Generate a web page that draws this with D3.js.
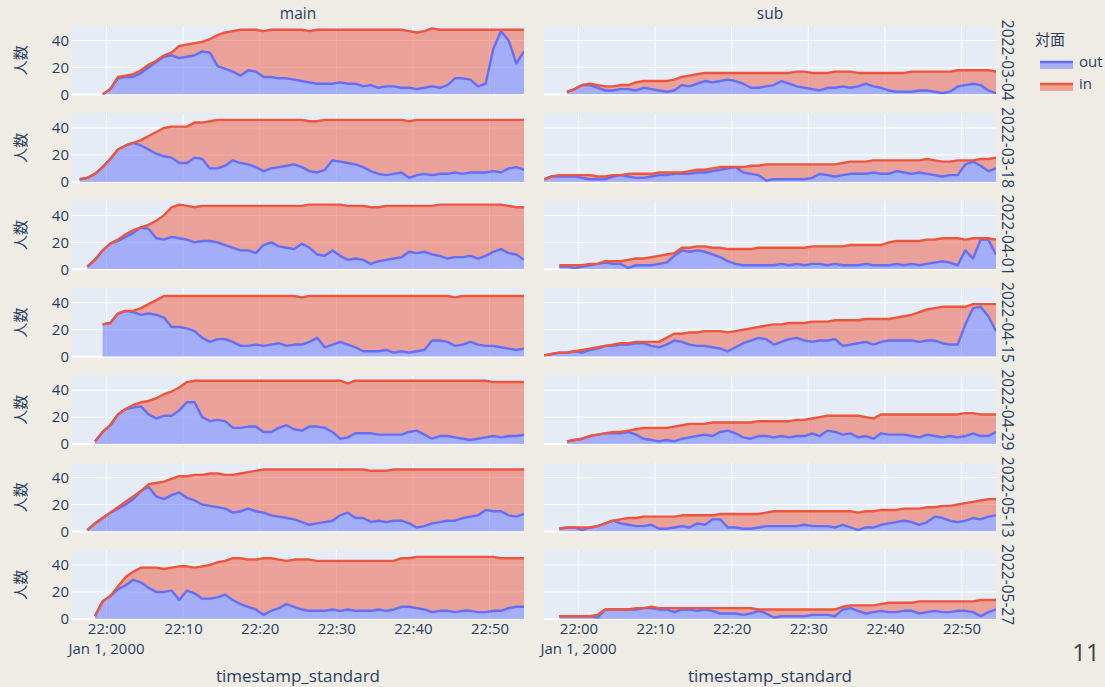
<!DOCTYPE html>
<html lang="ja">

<head>
    <meta charset="UTF-8">
    <title>対面 out / in</title>
    <style>
        body {
            margin: 0;
            background: #efece6;
        }

        text {
            font-family: "Open Sans", "Noto Sans CJK JP", sans-serif;
            fill: #2a3f5f;
        }

        .tick text {
            font-size: 15px;
        }
    </style>
</head>

<body>
    <svg width="1105" height="687"></svg>
    <script src="https://d3js.org/d3.v7.min.js"></script>
    <script>
        const _ = null;

        const dates = ["2022-03-04", "2022-03-18", "2022-04-01", "2022-04-15", "2022-04-29", "2022-05-13", "2022-05-27"];
        const rooms = ["main", "sub"];
        const keys = ["out", "in"];
        const yTicks = [0, 20, 40];

        // one sample per minute, 21:55:30 .. 22:54:30
        const firstSample = new Date(2000, 0, 1, 21, 55, 30);
        const times = d3.range(60).map(i => d3.timeMinute.offset(firstSample, i));

        // main
        const mainOut0304 = [_, _, _, _, 0, 4, 12, 13, 13, 16, 20, 24, 28, 29, 27, 28, 29, 32, 31, 21, 19, 17, 14, 18, 17, 13, 13, 12, 12, 11, 10, 9, 8, 8, 8, 9, 8, 8, 6, 7, 5, 6, 6, 5, 5, 4, 5, 6, 5, 7, 12, 12, 11, 6, 8, 34, 47, 40, 23, 32];
        const mainIn0304 = [_, _, _, _, 0, 0, 1, 1, 2, 2, 2, 1, 1, 2, 9, 9, 9, 7, 10, 23, 27, 30, 34, 30, 31, 34, 35, 36, 36, 37, 38, 38, 40, 40, 40, 39, 40, 40, 42, 41, 43, 42, 42, 43, 42, 42, 42, 43, 43, 41, 36, 36, 37, 42, 40, 14, 1, 8, 25, 16];
        const mainOut0318 = [_, 2, 3, 6, 11, 17, 24, 27, 29, 27, 24, 21, 19, 18, 14, 14, 18, 17, 10, 10, 12, 16, 14, 13, 11, 8, 10, 11, 12, 13, 11, 8, 7, 9, 16, 15, 14, 13, 11, 8, 6, 5, 6, 7, 3, 5, 6, 5, 6, 6, 7, 6, 7, 7, 7, 8, 7, 10, 11, 9];
        const mainIn0318 = [_, 0, 0, 0, 0, 0, 0, 0, 0, 4, 10, 16, 21, 23, 27, 27, 26, 27, 35, 36, 34, 30, 32, 33, 35, 38, 36, 35, 34, 33, 35, 37, 38, 37, 30, 31, 32, 33, 35, 38, 40, 41, 40, 39, 42, 41, 40, 41, 40, 40, 39, 40, 39, 39, 39, 38, 39, 36, 35, 37];
        const mainOut0401 = [_, _, 2, 7, 14, 19, 21, 24, 27, 31, 30, 23, 22, 24, 23, 22, 20, 21, 21, 20, 18, 16, 14, 14, 12, 18, 20, 17, 16, 15, 19, 16, 11, 10, 14, 10, 7, 8, 7, 4, 6, 7, 8, 9, 13, 12, 13, 11, 10, 8, 9, 9, 10, 8, 10, 13, 15, 12, 11, 7];
        const mainIn0401 = [_, _, 0, 0, 0, 0, 1, 2, 2, 0, 3, 13, 18, 22, 25, 25, 26, 26, 26, 27, 29, 31, 33, 33, 35, 29, 27, 30, 31, 32, 28, 32, 37, 38, 34, 38, 40, 39, 40, 42, 40, 40, 39, 38, 34, 35, 34, 36, 38, 40, 39, 39, 38, 40, 38, 35, 33, 35, 35, 39];
        const mainOut0415 = [_, _, _, _, 24, 25, 32, 34, 33, 31, 32, 31, 29, 22, 22, 21, 19, 14, 11, 13, 13, 11, 8, 8, 9, 8, 9, 10, 8, 9, 9, 11, 14, 7, 9, 11, 9, 7, 4, 4, 4, 5, 3, 4, 3, 4, 5, 12, 12, 11, 8, 9, 11, 9, 8, 8, 7, 6, 5, 6];
        const mainIn0415 = [_, _, _, _, 0, 0, 0, 0, 1, 5, 7, 11, 16, 23, 23, 24, 26, 31, 34, 32, 32, 34, 37, 37, 36, 37, 36, 35, 37, 36, 35, 34, 31, 38, 36, 34, 36, 38, 41, 41, 41, 40, 42, 41, 42, 41, 40, 33, 33, 34, 36, 36, 34, 36, 37, 37, 38, 39, 40, 39];
        const mainOut0429 = [_, _, _, 2, 9, 14, 22, 26, 27, 28, 22, 19, 21, 21, 25, 31, 31, 20, 17, 18, 17, 12, 12, 13, 13, 9, 9, 12, 14, 11, 10, 13, 13, 12, 9, 4, 5, 8, 8, 8, 7, 7, 7, 7, 9, 10, 7, 4, 6, 6, 5, 4, 3, 4, 5, 6, 5, 6, 6, 7];
        const mainIn0429 = [_, _, _, 0, 0, 0, 0, 0, 2, 3, 10, 15, 16, 18, 17, 15, 16, 27, 30, 29, 30, 35, 35, 34, 34, 38, 38, 35, 33, 36, 37, 34, 34, 35, 38, 43, 40, 39, 39, 39, 40, 40, 40, 40, 38, 37, 40, 43, 41, 41, 42, 43, 44, 43, 42, 40, 41, 40, 40, 39];
        const mainOut0513 = [_, _, 1, 6, 10, 14, 17, 20, 24, 30, 33, 26, 24, 27, 29, 25, 23, 20, 19, 18, 17, 14, 15, 17, 15, 14, 12, 11, 10, 9, 7, 5, 6, 7, 8, 12, 14, 10, 10, 7, 8, 7, 8, 8, 6, 3, 4, 6, 7, 8, 8, 10, 11, 12, 16, 15, 15, 12, 11, 13];
        const mainIn0513 = [_, _, 0, 0, 0, 0, 1, 2, 2, 0, 2, 10, 13, 12, 12, 16, 19, 22, 24, 25, 25, 28, 28, 27, 30, 32, 34, 35, 36, 37, 39, 41, 40, 39, 38, 34, 32, 36, 36, 38, 37, 38, 38, 38, 40, 43, 42, 40, 39, 38, 38, 36, 35, 34, 30, 31, 31, 34, 35, 33];
        const mainOut0527 = [_, _, _, 2, 13, 17, 22, 25, 29, 27, 23, 20, 20, 21, 14, 21, 19, 15, 15, 16, 18, 14, 11, 9, 7, 3, 6, 8, 11, 9, 7, 6, 6, 6, 7, 6, 7, 6, 6, 6, 7, 6, 7, 9, 9, 8, 7, 5, 6, 6, 5, 6, 6, 5, 5, 6, 6, 8, 9, 9];
        const mainIn0527 = [_, _, _, 0, 0, 0, 2, 6, 6, 11, 15, 18, 17, 17, 25, 18, 19, 24, 25, 26, 25, 31, 34, 35, 37, 42, 39, 36, 32, 35, 37, 38, 37, 37, 36, 37, 36, 37, 37, 37, 36, 37, 36, 36, 36, 38, 39, 41, 40, 40, 41, 40, 40, 41, 41, 40, 39, 37, 36, 36];

        // sub
        const subOut0304 = [_, _, _, 2, 4, 7, 7, 5, 3, 3, 4, 4, 3, 5, 4, 3, 2, 3, 7, 6, 8, 10, 9, 10, 11, 10, 8, 5, 5, 6, 7, 10, 8, 6, 5, 4, 3, 5, 5, 6, 5, 6, 8, 6, 5, 3, 2, 2, 2, 3, 3, 2, 1, 2, 6, 7, 8, 7, 3, 1];
        const subIn0304 = [_, _, _, 0, 0, 0, 1, 2, 3, 3, 3, 3, 6, 5, 6, 7, 8, 8, 6, 8, 7, 6, 7, 6, 5, 6, 8, 11, 11, 10, 9, 6, 8, 11, 12, 12, 13, 11, 12, 11, 12, 10, 8, 10, 11, 13, 14, 14, 15, 14, 14, 15, 16, 15, 12, 11, 10, 11, 15, 16];
        const subOut0318 = [2, 4, 4, 4, 4, 3, 2, 2, 2, 4, 5, 4, 3, 3, 4, 5, 5, 6, 6, 6, 7, 7, 8, 9, 10, 11, 7, 6, 5, 1, 2, 2, 2, 2, 2, 3, 6, 5, 4, 5, 6, 6, 6, 7, 6, 6, 8, 7, 6, 7, 6, 5, 4, 5, 5, 13, 15, 12, 8, 10];
        const subIn0318 = [0, 0, 1, 1, 1, 2, 3, 2, 2, 1, 0, 2, 3, 3, 2, 2, 2, 1, 1, 2, 2, 2, 2, 2, 1, 0, 4, 6, 7, 12, 11, 11, 11, 11, 11, 10, 7, 8, 9, 9, 9, 9, 9, 9, 10, 10, 8, 9, 10, 9, 11, 11, 11, 10, 11, 3, 1, 5, 9, 8];
        const subOut0401 = [_, _, 2, 2, 1, 2, 3, 4, 5, 4, 4, 1, 3, 3, 3, 4, 5, 10, 14, 13, 14, 13, 11, 9, 6, 4, 3, 3, 3, 3, 3, 4, 3, 4, 3, 4, 4, 3, 4, 3, 3, 3, 4, 3, 3, 3, 4, 3, 4, 3, 4, 5, 6, 5, 3, 14, 8, 22, 22, 11];
        const subIn0401 = [_, _, 1, 1, 2, 1, 1, 0, 1, 2, 2, 6, 5, 5, 6, 6, 6, 2, 2, 3, 3, 4, 5, 7, 9, 11, 12, 12, 13, 13, 13, 12, 13, 12, 13, 13, 13, 14, 13, 14, 15, 15, 14, 15, 15, 17, 17, 18, 17, 18, 18, 17, 17, 18, 20, 8, 15, 1, 1, 11];
        const subOut0415 = [1, 2, 3, 3, 4, 3, 5, 6, 8, 8, 9, 9, 10, 10, 8, 7, 9, 12, 11, 9, 8, 8, 7, 6, 4, 7, 10, 12, 14, 13, 9, 11, 13, 14, 12, 11, 12, 12, 13, 8, 9, 10, 11, 9, 11, 12, 12, 12, 12, 11, 12, 12, 10, 9, 9, 24, 36, 37, 30, 19];
        const subIn0415 = [0, 0, 0, 0, 0, 2, 1, 1, 0, 1, 1, 1, 1, 1, 3, 4, 5, 5, 6, 9, 10, 11, 12, 13, 14, 12, 10, 9, 8, 10, 15, 13, 12, 11, 13, 15, 14, 14, 14, 19, 18, 17, 17, 19, 17, 16, 17, 18, 19, 22, 23, 24, 27, 28, 28, 13, 3, 2, 9, 20];
        const subOut0429 = [_, _, _, 2, 3, 4, 6, 7, 8, 8, 8, 9, 7, 4, 3, 2, 3, 2, 4, 5, 6, 7, 6, 9, 10, 8, 5, 4, 6, 6, 5, 6, 5, 6, 6, 8, 6, 10, 9, 7, 8, 5, 6, 4, 8, 7, 7, 7, 6, 5, 7, 6, 5, 6, 5, 6, 8, 6, 6, 9];
        const subIn0429 = [_, _, _, 0, 0, 0, 0, 0, 0, 1, 1, 1, 4, 8, 9, 10, 9, 11, 10, 10, 9, 8, 10, 7, 6, 8, 11, 12, 11, 11, 12, 11, 12, 12, 12, 11, 14, 11, 12, 14, 13, 16, 14, 15, 14, 15, 15, 15, 16, 17, 15, 16, 17, 16, 17, 17, 15, 16, 16, 13];
        const subOut0513 = [_, _, 2, 3, 3, 1, 3, 4, 6, 8, 6, 5, 4, 4, 5, 2, 2, 3, 4, 3, 6, 5, 9, 9, 3, 3, 2, 2, 3, 4, 4, 4, 4, 4, 5, 4, 4, 4, 3, 5, 3, 1, 3, 3, 5, 6, 7, 8, 7, 5, 7, 11, 10, 8, 7, 8, 10, 9, 11, 12];
        const subIn0513 = [_, _, 0, 0, 0, 2, 0, 0, 0, 0, 3, 5, 6, 7, 6, 9, 9, 8, 8, 9, 6, 7, 3, 4, 10, 10, 11, 11, 10, 10, 11, 11, 11, 11, 10, 11, 11, 11, 12, 10, 12, 13, 12, 12, 11, 10, 9, 9, 10, 12, 11, 7, 9, 11, 13, 13, 12, 14, 13, 12];
        const subOut0527 = [_, _, 2, 2, 2, 2, 2, 1, 7, 7, 7, 7, 7, 8, 8, 7, 7, 5, 7, 7, 6, 7, 6, 4, 4, 4, 3, 4, 6, 4, 1, 2, 2, 2, 2, 3, 3, 3, 2, 7, 8, 6, 4, 5, 6, 5, 5, 6, 6, 4, 5, 6, 5, 5, 6, 6, 5, 2, 5, 7];
        const subIn0527 = [_, _, 0, 0, 0, 0, 0, 2, 0, 0, 0, 0, 1, 0, 1, 1, 1, 3, 1, 1, 2, 1, 2, 4, 4, 4, 5, 4, 1, 3, 6, 5, 5, 5, 5, 4, 4, 4, 5, 2, 2, 4, 6, 5, 5, 7, 7, 6, 6, 9, 8, 7, 8, 8, 7, 7, 8, 12, 9, 7];

        const outByRoom = {
            main: [mainOut0304, mainOut0318, mainOut0401, mainOut0415, mainOut0429, mainOut0513, mainOut0527],
            sub: [subOut0304, subOut0318, subOut0401, subOut0415, subOut0429, subOut0513, subOut0527]
        };
        const inByRoom = {
            main: [mainIn0304, mainIn0318, mainIn0401, mainIn0415, mainIn0429, mainIn0513, mainIn0527],
            sub: [subIn0304, subIn0318, subIn0401, subIn0415, subIn0429, subIn0513, subIn0527]
        };

        const colors = { out: "#636efa", in: "#ef553b" };

        let svg = d3.select("svg");

        // facet layout
        const colX = [72, 544],
            rowY0 = 26,
            rowStep = 87.4,
            pw = 452,
            ph = 68.5;

        let x = d3.scaleTime()
            .domain([times[0], times[times.length - 1]])
            .range([0, pw]);

        let y = d3.scaleLinear()
            .domain([0, 50.8])
            .range([ph, 0]);

        let xTicks = x.ticks(d3.timeMinute.every(10));

        let stack = d3.stack()
            .keys(keys)
            .value((d, key) => d[key] == null ? 0 : d[key]);

        let area = d3.area()
            .defined(d => d.data.out != null)
            .x(d => x(d.data.t))
            .y0(d => y(d[0]))
            .y1(d => y(d[1]));

        let line = d3.line()
            .defined(d => d.data.out != null)
            .x(d => x(d.data.t))
            .y(d => y(d[1]));

        svg.append("defs").append("clipPath")
            .attr("id", "plot-clip")
            .append("rect")
            .attr("width", pw)
            .attr("height", ph);

        dates.forEach((date, i) => {
            rooms.forEach((room, j) => {
                let rows = times.map((t, k) => ({
                    t: t,
                    out: outByRoom[room][i][k],
                    in: inByRoom[room][i][k]
                }));
                let layers = stack(rows);

                let g = svg.append("g")
                    .attr("transform", `translate(${colX[j]},${rowY0 + i * rowStep})`);

                g.append("rect")
                    .attr("width", pw)
                    .attr("height", ph)
                    .attr("fill", "#e5ecf6");

                g.selectAll(".vgrid")
                    .data(xTicks)
                    .join("line")
                    .attr("x1", d => x(d))
                    .attr("x2", d => x(d))
                    .attr("y1", 0)
                    .attr("y2", ph)
                    .attr("stroke", "#fff")
                    .attr("stroke-width", 1);

                g.selectAll(".hgrid")
                    .data(yTicks)
                    .join("line")
                    .attr("x1", 0)
                    .attr("x2", pw)
                    .attr("y1", d => y(d))
                    .attr("y2", d => y(d))
                    .attr("stroke", "#fff")
                    .attr("stroke-width", d => d === 0 ? 2 : 1);

                let plot = g.append("g").attr("clip-path", "url(#plot-clip)");

                plot.selectAll(".fill")
                    .data(layers)
                    .join("path")
                    .attr("d", area)
                    .attr("fill", d => colors[d.key])
                    .attr("fill-opacity", 0.5);

                plot.selectAll(".trace")
                    .data(layers)
                    .join("path")
                    .attr("d", line)
                    .attr("fill", "none")
                    .attr("stroke", d => colors[d.key])
                    .attr("stroke-width", 2.4)
                    .attr("stroke-linejoin", "round");

                if (j === 0) {
                    g.append("g")
                        .call(d3.axisLeft(y).tickValues(yTicks).tickSize(0).tickPadding(3))
                        .call(a => a.select(".domain").remove())
                        .selectAll("text")
                        .attr("fill", "#2a3f5f");

                    g.append("text")
                        .attr("transform", `translate(-50,${ph / 2}) rotate(-90)`)
                        .attr("text-anchor", "middle")
                        .attr("dominant-baseline", "middle")
                        .style("font-size", "15px")
                        .text("人数");
                } else {
                    g.append("text")
                        .attr("transform", `translate(${pw + 10},${ph / 2}) rotate(90)`)
                        .attr("text-anchor", "middle")
                        .attr("dominant-baseline", "middle")
                        .style("font-size", "15.5px")
                        .text(date);
                }

                if (i === dates.length - 1) {
                    g.append("g")
                        .attr("transform", `translate(0,${ph})`)
                        .call(d3.axisBottom(x)
                            .tickValues(xTicks)
                            .tickFormat(d3.timeFormat("%H:%M"))
                            .tickSize(0)
                            .tickPadding(4))
                        .call(a => a.select(".domain").remove())
                        .selectAll("text")
                        .attr("fill", "#2a3f5f");

                    g.append("text")
                        .attr("x", x(xTicks[0]))
                        .attr("y", ph + 31)
                        .attr("text-anchor", "middle")
                        .attr("dominant-baseline", "middle")
                        .style("font-size", "15px")
                        .text("Jan 1, 2000");

                    g.append("text")
                        .attr("x", pw / 2)
                        .attr("y", ph + 59)
                        .attr("text-anchor", "middle")
                        .attr("dominant-baseline", "middle")
                        .style("font-size", "17px")
                        .text("timestamp_standard");
                }

                if (i === 0) {
                    g.append("text")
                        .attr("x", pw / 2)
                        .attr("y", -11)
                        .attr("text-anchor", "middle")
                        .attr("dominant-baseline", "middle")
                        .style("font-size", "15.5px")
                        .text(room);
                }
            });
        });

        // legend
        let legend = svg.append("g").attr("transform", "translate(1035,0)");

        legend.append("text")
            .attr("x", 0)
            .attr("y", 41)
            .attr("dominant-baseline", "middle")
            .style("font-size", "15px")
            .text("対面");

        let item = legend.selectAll(".item")
            .data(keys)
            .join("g")
            .attr("transform", (d, i) => `translate(0,${63 + i * 22})`);

        item.append("rect")
            .attr("x", 5)
            .attr("y", -1)
            .attr("width", 33)
            .attr("height", 7)
            .attr("fill", d => colors[d])
            .attr("fill-opacity", 0.5);

        item.append("line")
            .attr("x1", 5)
            .attr("x2", 38)
            .attr("y1", -1)
            .attr("y2", -1)
            .attr("stroke", d => colors[d])
            .attr("stroke-width", 2.4);

        item.append("text")
            .attr("x", 44)
            .attr("y", 0)
            .attr("dominant-baseline", "middle")
            .style("font-size", "15px")
            .text(d => d);

        // slide page number
        svg.append("text")
            .attr("x", 1086)
            .attr("y", 655)
            .attr("text-anchor", "middle")
            .attr("dominant-baseline", "middle")
            .style("font-size", "24px")
            .style("fill", "#404040")
            .text("11");
    </script>

</body>

</html>
